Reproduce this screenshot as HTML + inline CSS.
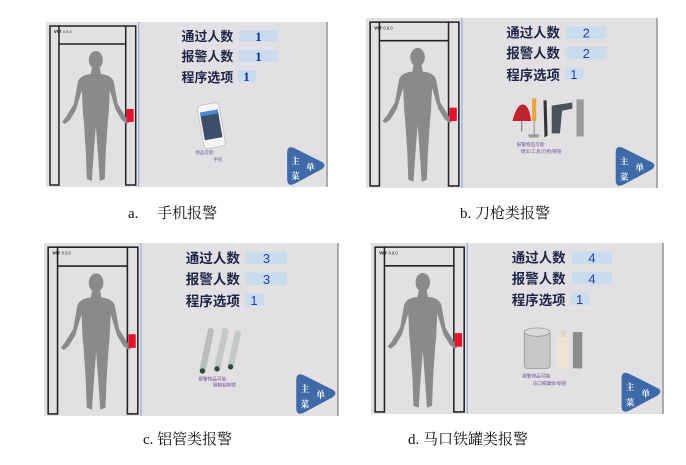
<!DOCTYPE html>
<html><head><meta charset="utf-8"><style>
html,body{margin:0;padding:0;background:#fff;width:686px;height:465px;overflow:hidden;position:relative}
svg.p{position:absolute}
.cap{position:absolute;font-family:"Liberation Serif","Noto Serif CJK SC",serif;font-size:15px;color:#111;white-space:pre}
.lb{font-family:"Liberation Sans","Noto Sans CJK SC",sans-serif;font-weight:bold;font-size:13px;fill:#1c2548}
.vs{font-family:"Liberation Serif",serif;font-weight:bold;font-size:13px;fill:#1530a0}
.vn{font-family:"Liberation Sans",sans-serif;font-size:12.5px;fill:#2a3ea0}
.sm{font-family:"Liberation Sans","Noto Sans CJK SC",sans-serif;font-size:4.5px;fill:#6a5a9a}
.bt{font-family:"Liberation Serif","Noto Serif CJK SC",serif;font-size:8.5px;fill:#fff;font-weight:bold}
.ver{font-family:"Liberation Sans",sans-serif;font-size:5px;fill:#222;font-weight:bold}
</style></head><body>

<svg class="p" style="left:46px;top:22px" width="282" height="165" viewBox="0 0 283 165" preserveAspectRatio="none">
<rect width="283" height="165" fill="#e3e0e3"/>
<g fill="none" stroke="#222" stroke-width="1.5"><rect x="4" y="4" width="9" height="159"/><rect x="80" y="4" width="10" height="159"/><line x1="13" y1="4" x2="80" y2="4"/><line x1="13" y1="22" x2="80" y2="22"/></g>
<text x="8" y="11" class="ver">ver <tspan font-weight="normal" font-size="4">0.9.0</tspan></text>
<path fill="#8a8a8a" d="M46,46 L54,46 L55,52 Q66,53 68,60 L72,82 L80,95 L84,100 L81,102 L76,98 L70,88 L64,68 L63,90 L62,100 L60,130 L59,157 L54,159 L52,130 L50,104 L48,130 L46,159 L41,157 L40,130 L38,100 L37,90 L36,68 L30,88 L24,98 L19,102 L16,100 L20,95 L28,82 L32,60 Q34,53 45,52 Z"/>
<ellipse cx="50" cy="38" rx="7" ry="9" fill="#8a8a8a"/>
<rect x="81" y="87" width="7" height="13" fill="#e8112d"/>
<line x1="93" y1="0" x2="93" y2="165" stroke="#8fb6dc" stroke-width="1.2"/>
<line x1="282" y1="0" x2="282" y2="165" stroke="#777" stroke-width="1"/>
<rect x="194" y="8" width="39" height="12" fill="#c8dced"/><rect x="194" y="28" width="39" height="12" fill="#c8dced"/><rect x="193" y="48" width="18" height="12" fill="#c8dced"/>
<text x="136" y="19" class="lb">通过人数</text><text x="136" y="39" class="lb">报警人数</text><text x="136" y="60" class="lb">程序选项</text>
<text x="210" y="19" class="vs">1</text><text x="210" y="39" class="vs">1</text><text x="198" y="59" class="vs">1</text>
<g transform="rotate(-10 165 104)"><rect x="155" y="82" width="22" height="44" rx="4" fill="#f4f4f4" stroke="#bbb" stroke-width="0.7"/><rect x="157" y="89" width="18" height="28" fill="#3c4e6a"/><rect x="157" y="89" width="18" height="4" fill="#4a8ad0"/></g>
<text x="150" y="132" class="sm">物品可能:</text><text x="168" y="139" class="sm">手机</text>
<path d="M242,131 Q242,123 249,126 L277,140 Q282,143 277,147 L249,162 Q242,165 242,157 Z" fill="#3f6aa8"/>
<text x="246" y="142" class="bt">主</text><text x="261" y="148" class="bt">单</text><text x="246" y="157" class="bt">菜</text>
</svg>

<svg class="p" style="left:366px;top:18px" width="292" height="170" viewBox="0 0 283 165" preserveAspectRatio="none">
<rect width="283" height="165" fill="#e3e0e3"/>
<g fill="none" stroke="#222" stroke-width="1.5"><rect x="4" y="4" width="9" height="159"/><rect x="80" y="4" width="10" height="159"/><line x1="13" y1="4" x2="80" y2="4"/><line x1="13" y1="22" x2="80" y2="22"/></g>
<text x="8" y="11" class="ver">ver <tspan font-weight="normal" font-size="4">0.9.0</tspan></text>
<path fill="#8a8a8a" d="M46,46 L54,46 L55,52 Q66,53 68,60 L72,82 L80,95 L84,100 L81,102 L76,98 L70,88 L64,68 L63,90 L62,100 L60,130 L59,157 L54,159 L52,130 L50,104 L48,130 L46,159 L41,157 L40,130 L38,100 L37,90 L36,68 L30,88 L24,98 L19,102 L16,100 L20,95 L28,82 L32,60 Q34,53 45,52 Z"/>
<ellipse cx="50" cy="38" rx="7" ry="9" fill="#8a8a8a"/>
<rect x="81" y="87" width="7" height="13" fill="#e8112d"/>
<line x1="93" y1="0" x2="93" y2="165" stroke="#8fb6dc" stroke-width="1.2"/>
<line x1="282" y1="0" x2="282" y2="165" stroke="#777" stroke-width="1"/>
<rect x="194" y="8" width="39" height="12" fill="#c8dced"/><rect x="194" y="28" width="39" height="12" fill="#c8dced"/><rect x="193" y="48" width="18" height="12" fill="#c8dced"/>
<text x="136" y="19" class="lb">通过人数</text><text x="136" y="39" class="lb">报警人数</text><text x="136" y="60" class="lb">程序选项</text>
<text x="210" y="19" class="vn">2</text><text x="210" y="39" class="vn">2</text><text x="198" y="59" class="vn">1</text>
<path d="M142,100 Q146,84 152,84 Q158,84 160,100 Z" fill="#c81f2a"/><line x1="151" y1="84" x2="151" y2="110" stroke="#555" stroke-width="0.8"/>
<rect x="161" y="78" width="4" height="22" fill="#e8a63a"/><line x1="163" y1="100" x2="163" y2="114" stroke="#999" stroke-width="1.2"/><path d="M157,113 L168,113 L167,116 L158,116Z" fill="#999"/>
<path d="M172,80 L175,80 L176,114 L173,116 Z" fill="#333"/>
<path d="M180,85 L200,82 L200,88 L190,90 L188,112 L180,112 Z" fill="#4a525a"/>
<rect x="204" y="79" width="7" height="36" fill="#9a9a9a"/>
<text x="146" y="124" class="sm">报警物品可能:</text><text x="150" y="131" class="sm">雨伞/工具/刀枪/钢管</text>
<path d="M242,131 Q242,123 249,126 L277,140 Q282,143 277,147 L249,162 Q242,165 242,157 Z" fill="#3f6aa8"/>
<text x="246" y="142" class="bt">主</text><text x="261" y="148" class="bt">单</text><text x="246" y="157" class="bt">菜</text>
</svg>

<svg class="p" style="left:44px;top:243px" width="295" height="173" viewBox="0 0 283 165" preserveAspectRatio="none">
<rect width="283" height="165" fill="#e3e0e3"/>
<g fill="none" stroke="#222" stroke-width="1.5"><rect x="4" y="4" width="9" height="159"/><rect x="80" y="4" width="10" height="159"/><line x1="13" y1="4" x2="80" y2="4"/><line x1="13" y1="22" x2="80" y2="22"/></g>
<text x="8" y="11" class="ver">ver <tspan font-weight="normal" font-size="4">0.9.0</tspan></text>
<path fill="#8a8a8a" d="M46,46 L54,46 L55,52 Q66,53 68,60 L72,82 L80,95 L84,100 L81,102 L76,98 L70,88 L64,68 L63,90 L62,100 L60,130 L59,157 L54,159 L52,130 L50,104 L48,130 L46,159 L41,157 L40,130 L38,100 L37,90 L36,68 L30,88 L24,98 L19,102 L16,100 L20,95 L28,82 L32,60 Q34,53 45,52 Z"/>
<ellipse cx="50" cy="38" rx="7" ry="9" fill="#8a8a8a"/>
<rect x="81" y="87" width="7" height="13" fill="#e8112d"/>
<line x1="93" y1="0" x2="93" y2="165" stroke="#8fb6dc" stroke-width="1.2"/>
<line x1="282" y1="0" x2="282" y2="165" stroke="#777" stroke-width="1"/>
<rect x="194" y="8" width="39" height="12" fill="#c8dced"/><rect x="194" y="28" width="39" height="12" fill="#c8dced"/><rect x="193" y="48" width="18" height="12" fill="#c8dced"/>
<text x="136" y="19" class="lb">通过人数</text><text x="136" y="39" class="lb">报警人数</text><text x="136" y="60" class="lb">程序选项</text>
<text x="210" y="19" class="vn">3</text><text x="210" y="39" class="vn">3</text><text x="198" y="59" class="vn">1</text>
<g stroke-linecap="round" stroke-width="6"><line x1="160" y1="84" x2="152" y2="122" stroke="#b8bcbc"/><line x1="174" y1="84" x2="166" y2="120" stroke="#c4c8c8"/><line x1="186" y1="86" x2="179" y2="118" stroke="#c4c8c8"/></g>
<circle cx="152" cy="122" r="2.5" fill="#2a4a40"/><circle cx="166" cy="120" r="2.5" fill="#2a4a40"/><circle cx="179" cy="118" r="2.5" fill="#2a4a40"/>
<text x="148" y="131" class="sm">报警物品可能:</text><text x="162" y="137" class="sm">钢制铝制管</text>
<path d="M242,131 Q242,123 249,126 L277,140 Q282,143 277,147 L249,162 Q242,165 242,157 Z" fill="#3f6aa8"/>
<text x="246" y="142" class="bt">主</text><text x="261" y="148" class="bt">单</text><text x="246" y="157" class="bt">菜</text>
</svg>

<svg class="p" style="left:371px;top:243px" width="293" height="171" viewBox="0 0 283 165" preserveAspectRatio="none">
<rect width="283" height="165" fill="#e3e0e3"/>
<g fill="none" stroke="#222" stroke-width="1.5"><rect x="4" y="4" width="9" height="159"/><rect x="80" y="4" width="10" height="159"/><line x1="13" y1="4" x2="80" y2="4"/><line x1="13" y1="22" x2="80" y2="22"/></g>
<text x="8" y="11" class="ver">ver <tspan font-weight="normal" font-size="4">0.9.0</tspan></text>
<path fill="#8a8a8a" d="M46,46 L54,46 L55,52 Q66,53 68,60 L72,82 L80,95 L84,100 L81,102 L76,98 L70,88 L64,68 L63,90 L62,100 L60,130 L59,157 L54,159 L52,130 L50,104 L48,130 L46,159 L41,157 L40,130 L38,100 L37,90 L36,68 L30,88 L24,98 L19,102 L16,100 L20,95 L28,82 L32,60 Q34,53 45,52 Z"/>
<ellipse cx="50" cy="38" rx="7" ry="9" fill="#8a8a8a"/>
<rect x="81" y="87" width="7" height="13" fill="#e8112d"/>
<line x1="93" y1="0" x2="93" y2="165" stroke="#8fb6dc" stroke-width="1.2"/>
<line x1="282" y1="0" x2="282" y2="165" stroke="#777" stroke-width="1"/>
<rect x="194" y="8" width="39" height="12" fill="#c8dced"/><rect x="194" y="28" width="39" height="12" fill="#c8dced"/><rect x="193" y="48" width="18" height="12" fill="#c8dced"/>
<text x="136" y="19" class="lb">通过人数</text><text x="136" y="39" class="lb">报警人数</text><text x="136" y="60" class="lb">程序选项</text>
<text x="210" y="19" class="vn">4</text><text x="210" y="39" class="vn">4</text><text x="198" y="59" class="vn">1</text>
<rect x="148" y="85" width="25" height="36" rx="3" fill="#c6c8ca" stroke="#888" stroke-width="0.6"/><ellipse cx="160.5" cy="86" rx="12.5" ry="4" fill="#d8dadc" stroke="#888" stroke-width="0.6"/>
<rect x="180" y="90" width="11" height="31" rx="2" fill="#efe3d6"/><rect x="183" y="84" width="5" height="7" fill="#e0d4c6"/>
<rect x="195" y="86" width="9" height="35" fill="#8a8c8c"/>
<text x="146" y="130" class="sm">报警物品可能:</text><text x="156" y="137" class="sm">马口铁罐体/钢管</text>
<path d="M242,131 Q242,123 249,126 L277,140 Q282,143 277,147 L249,162 Q242,165 242,157 Z" fill="#3f6aa8"/>
<text x="246" y="142" class="bt">主</text><text x="261" y="148" class="bt">单</text><text x="246" y="157" class="bt">菜</text>
</svg>

<div class="cap" style="left:128px;top:202px">a.     手机报警</div>
<div class="cap" style="left:460px;top:202px">b. 刀枪类报警</div>
<div class="cap" style="left:143px;top:428px">c. 铝管类报警</div>
<div class="cap" style="left:408px;top:428px">d. 马口铁罐类报警</div>
</body></html>
